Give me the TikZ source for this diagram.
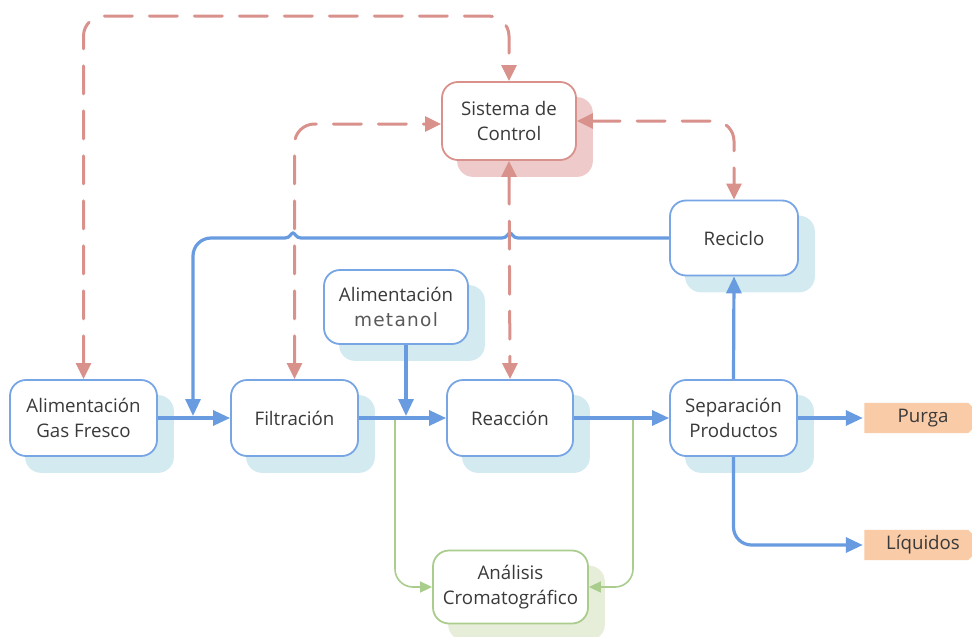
\documentclass[tikz,border=0pt]{standalone}
\usepackage{fontspec}
\setmainfont{Open Sans}
\newfontfamily\metfont[LetterSpace=7]{DejaVu Sans}
\usetikzlibrary{arrows.meta,backgrounds,calc}

\definecolor{bl}{RGB}{104,155,224}
\definecolor{blbox}{RGB}{120,165,228}
\definecolor{blsh}{RGB}{211,234,240}
\definecolor{rd}{RGB}{217,145,140}
\definecolor{rdsh}{RGB}{238,202,202}
\definecolor{gr}{RGB}{170,204,140}
\definecolor{grsh}{RGB}{230,238,218}
\definecolor{orf}{RGB}{249,203,167}
\definecolor{txt}{RGB}{58,58,58}

\begin{document}
\begin{tikzpicture}[x=1pt,y=-1pt,
  box/.style={draw=blbox, line width=1.8pt, rounded corners=16pt, fill=white,
    align=center, text=txt, font=\fontsize{18.7}{25.5}\selectfont, inner sep=0pt},
  outlab/.style={text=txt, font=\fontsize{18.7}{25}\selectfont, inner sep=0pt,
    minimum width=118pt, minimum height=30pt},
  blarrow/.style={draw=bl, line width=3.2pt, -{Triangle[length=17pt,width=15pt]}},
  rdline/.style={draw=rd, line width=3pt, dash pattern=on 28pt off 17pt, line cap=round,
    {Triangle[length=16pt,width=15pt]}-{Triangle[length=16pt,width=15pt]}, rounded corners=20pt},
  grline/.style={draw=gr, line width=1.6pt, -{Triangle[length=12pt,width=11pt]}, rounded corners=18pt}
]
\useasboundingbox (0,0) rectangle (972,637);

% nodes
\node[box, draw=rd, minimum width=134pt, minimum height=78pt] (sys) at (509,121) {Sistema de\\Control};
\node[box, minimum width=128pt, minimum height=75pt] (rec) at (734,238) {Reciclo};
\node[box, minimum width=144pt, minimum height=74pt] (met) at (396,307) {Alimentación\\{\color{black!65}\metfont\fontsize{18.5}{25.5}\selectfont metanol}};
\node[box, minimum width=147pt, minimum height=76pt] (gas) at (83.5,418) {Alimentación\\Gas Fresco};
\node[box, minimum width=127pt, minimum height=76pt] (filt) at (294.5,418) {Filtración};
\node[box, minimum width=126pt, minimum height=76pt] (reac) at (510,418) {Reacción};
\node[box, minimum width=127pt, minimum height=76pt] (sep) at (733.5,418) {Separación\\Productos};
\node[box, draw=gr, minimum width=155pt, minimum height=73pt] (ana) at (510.5,587) {Análisis\\Cromatográfico};
\node[outlab] (purga) at (923,418) {Purga};
\node[outlab] (liq) at (923,545) {Líquidos};

\coordinate (rj) at (193,416);
\coordinate (mj) at (406,416);
\coordinate (g1) at (395,418);
\coordinate (g2) at (633,418);

% shadows and label fills
\begin{scope}[on background layer]
  \foreach \n/\c in {sys/rdsh, rec/blsh, met/blsh, gas/blsh, filt/blsh, reac/blsh, sep/blsh, ana/grsh}
    \fill[\c, rounded corners=16pt] ($(\n.north west)+(16,16)$) rectangle ($(\n.south east)+(16,16)$);
  \foreach \n in {purga, liq}
    \fill[orf] ($(\n.north west)+(0.5,0)$) -- ($(\n.north east)+(-14,0)$) -- ($(\n.north east)+(-10,4)$)
      -- ($(\n.south east)+(-10,-4)$) -- ($(\n.south east)+(-14,0)$) -- ($(\n.south west)+(0.5,0)$) -- cycle;
\end{scope}

% green connectors
\draw[grline] (g1) |- (ana.west);
\draw[grline] (g2) |- (ana.east);

% blue connectors
\draw[blarrow] (gas.east) -- (filt.west);
\draw[blarrow] (filt.east) -- (reac.west);
\draw[blarrow] (reac.east) -- (sep.west);
\draw[blarrow] (sep.north) -- (rec.south);
\draw[blarrow] (sep.east) -- ($(purga.west)+(-1,0)$);
\draw[blarrow, rounded corners=18pt] (sep.south) |- ($(liq.west)+(-1,0)$);
\draw[blarrow] ([xshift=10pt]met.south) -- (mj);
\draw[blarrow] (rec.west) -- (518,238)
  .. controls (513,238) and (512,233) .. (510,233)
  .. controls (508,233) and (507,238) .. (502,238)
  -- (301,238)
  .. controls (296,238) and (295,233) .. (293,233)
  .. controls (291,233) and (290,238) .. (285,238)
  [rounded corners=18pt] -- (193,238) -- (rj);

% red dashed control lines
\draw[rdline] (gas.north) |- ([yshift=65pt]sys.north) -- (sys.north);
\draw[rdline] (filt.north) |- ([yshift=-3pt]sys.west);
\draw[rdline] (sys.south) -- (reac.north);
\draw[rdline] (sys.east) -| (rec.north);
\end{tikzpicture}
\end{document}
